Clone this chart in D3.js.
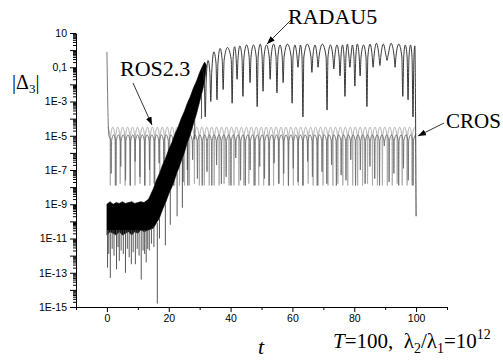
<!DOCTYPE html>
<html>
<head>
<meta charset="utf-8">
<script src="https://cdn.jsdelivr.net/npm/d3@7"></script>
<style>
  body { margin: 0; background: #fff; }
  svg { display: block; }
</style>
</head>
<body>
<svg id="chart" width="503" height="362"></svg>
<script>
// ---- data (values are log10 exponents) ----
const xTicks = [0, 20, 40, 60, 80, 100];
const xMinorTicks = [-10, 10, 30, 50, 70, 90, 110];
const yLabelExps = [1, -1, -3, -5, -7, -9, -11, -13, -15];
const yLabels = ['10', '0,1', '1E-3', '1E-5', '1E-7', '1E-9', '1E-11', '1E-13', '1E-15'];

// RADAU5, noisy start: envelope of the dense black band
const noiseT     = [0, 1, 2, 3, 4, 5, 6, 7, 8, 9, 10, 11, 12, 13.5, 15, 16, 17, 18, 19, 20, 21, 22, 23, 24, 25, 26, 27, 28, 29, 30, 31, 31.6, 32.2];
const noiseUpper = [-9.0, -8.85, -9.0, -8.9, -8.95, -8.85, -8.95, -8.9, -8.85, -8.95, -8.9, -8.85, -8.9, -8.7, -8.1, -7.6, -7.2, -6.7, -6.3, -5.8, -5.4, -4.9, -4.5, -4.0, -3.6, -3.1, -2.7, -2.2, -1.8, -1.3, -0.9, -0.7, -0.9];
const noiseLower = [-10.8, -10.6, -10.7, -10.8, -10.6, -10.8, -10.7, -10.6, -10.8, -10.6, -10.7, -10.5, -10.6, -10.5, -10.4, -10.1, -9.8, -9.3, -8.9, -8.4, -8.0, -7.5, -7.0, -6.5, -6.0, -5.4, -4.9, -4.3, -3.7, -3.0, -2.3, -1.8, -0.9];
// deep needles below the band: [t, top, bottom]
const noiseNeedles = [
  [0.2, -10.5, -12.7], [0.6, -10.5, -11.9], [1.1, -10.5, -13.3], [1.7, -10.5, -11.6], [2.3, -10.5, -12.0],
  [3.1, -10.5, -12.8], [3.6, -10.5, -11.5], [4.0, -10.5, -12.3], [4.6, -10.5, -11.7], [5.3, -10.5, -11.9],
  [6.0, -10.5, -13.0], [6.6, -10.5, -11.6], [7.2, -10.5, -12.1], [7.9, -10.5, -12.5], [8.5, -10.5, -11.8],
  [9.2, -10.5, -12.5], [9.8, -10.5, -11.6], [10.4, -10.5, -12.0], [11.1, -10.5, -13.4], [11.7, -10.5, -11.7],
  [12.2, -10.5, -11.9], [12.7, -10.5, -12.4], [13.2, -10.5, -11.6], [13.7, -10.5, -11.7], [14.4, -10.4, -11.3],
  [15.2, -10.3, -11.5], [16.3, -10.1, -14.8], [17.0, -9.8, -11.0], [18.9, -9.0, -11.4], [20.5, -8.2, -10.2],
  [22.7, -7.2, -9.7], [24.4, -6.3, -9.2], [26.0, -5.4, -7.0], [28.4, -4.1, -5.2], [30.6, -2.6, -4.0]
];
// RADAU5, oscillating part
const radPeakT   = [30.9, 32.7, 34.6, 36.6, 39.0, 41.3, 43.0, 45.2, 47.4, 49.6, 51.6, 53.9, 56.0, 58.4, 60.8, 62.6, 64.8, 67.3,
                    69.7, 72.3, 74.4, 76.2, 77.8, 79.4, 81.0, 83.0, 85.1, 87.2, 89.4, 91.9, 94.4, 96.5, 98.2, 99.6];
const radPeakExp = [-1.1, -0.6, -0.1, 0.1, 0.15, 0.2, 0.25, 0.3, 0.3, 0.35, 0.3, 0.35, 0.3, 0.35, 0.3, 0.3, 0.35, 0.3,
                    0.35, 0.3, 0.3, 0.3, 0.35, 0.3, 0.35, 0.3, 0.35, 0.4, 0.35, 0.4, 0.35, 0.3, 0.3, 0.25];
const radDipT    = [31.8, 33.6, 35.6, 37.6, 40.5, 42.1, 44.0, 46.3, 48.6, 50.5, 52.8, 55.0, 57.0, 59.9, 61.8, 63.4, 66.3, 68.3,
                    71.2, 73.4, 75.4, 77.0, 78.6, 80.2, 81.9, 84.1, 86.1, 88.3, 90.6, 93.2, 95.7, 97.4, 99.0];
const radDipExp  = [-3.9, -3.0, -2.9, -2.3, -3.1, -1.7, -2.7, -1.9, -3.3, -2.4, -1.7, -2.5, -1.9, -3.1, -1.0, -3.9, -1.3, -1.0,
                    -3.5, -1.1, -1.5, -2.7, -1.0, -2.1, -1.5, -3.3, -1.0, -0.9, -0.6, -1.0, -2.7, -2.9, -3.9];
const radEnd = [100.0, -9.7];

// ROS2.3 (light grey) — arches with needles, one needle per cycle
const rosStart = 0.3, rosPeriod = 1.6, rosPeak = -4.5, rosShoulder = -5.0;
const rosDips = [
  -7.9, -7.9, -7.8, -7.9, -7.9, -7.9, -7.8, -7.9, -7.9, -7.9,
  -7.9, -7.8, -7.9, -7.9, -7.9, -7.9, -7.9, -7.8, -7.9, -7.9,
  -7.9, -7.9, -7.9, -7.8, -7.9, -7.9, -7.9, -7.9, -7.8, -7.9,
  -7.9, -7.9, -7.9, -7.9, -7.8, -7.9, -7.9, -7.9, -7.9, -7.9,
  -7.8, -7.9, -7.9, -7.9, -7.9, -7.9, -7.8, -7.9, -7.9, -7.9,
  -7.9, -7.9, -7.8, -7.9, -7.9, -7.9, -7.9, -7.9, -7.8, -7.9,
  -7.9, -7.9];
// CROS (mid grey)
const crosSpike = [0, -0.1];
const crosStart = 0.6, crosPeriod = 1.55, crosPeak = -4.95, crosShoulder = -5.3;
const crosDips = [
  -7.2, -7.9, -6.8, -7.6, -7.9, -6.5, -7.4, -7.9, -7.0, -7.8,
  -6.6, -7.9, -7.3, -7.9, -6.9, -7.7, -7.9, -6.4, -7.5, -7.9,
  -7.1, -7.9, -6.7, -7.8, -7.4, -7.9, -6.3, -7.6, -7.9, -7.0,
  -7.9, -6.8, -7.5, -7.9, -6.6, -7.8, -7.2, -7.9, -6.9, -7.7,
  -7.9, -6.5, -7.4, -7.9, -7.1, -7.8, -6.7, -7.9, -7.3, -7.6,
  -6.4, -7.9, -7.0, -7.8, -6.8, -7.5, -7.9, -5.6, -7.7, -7.2,
  -7.9, -6.9, -7.6, -7.9];

// ---- chart ----
const svg = d3.select('#chart');
const x = d3.scaleLinear().domain([-10, 110]).range([76, 447]);
const y = d3.scaleLog().domain([1e-15, 10]).range([307, 33]);
const ey = e => y(Math.pow(10, e));

const sansFont = '"Liberation Sans", Arial, sans-serif';
const serifFont = '"Liberation Serif", "Times New Roman", serif';

// periodic series -> points (peak, shoulder, needle, shoulder)
function cyclePoints(start, period, peak, shoulder, dips) {
  const pts = [];
  dips.forEach((d, i) => {
    const t = start + i * period;
    pts.push([t, peak]);
    pts.push([t + period / 2 - 0.12, shoulder]);
    pts.push([t + period / 2, d]);
    pts.push([t + period / 2 + 0.12, shoulder]);
  });
  pts.push([start + dips.length * period, peak]);
  return pts.filter(p => p[0] <= 100);
}

const line = d3.line()
  .x(d => x(d[0]))
  .y(d => ey(d[1]))
  .curve(d3.curveMonotoneX);

const plot = svg.append('g');

// ROS2.3
plot.append('path')
  .datum(cyclePoints(rosStart, rosPeriod, rosPeak, rosShoulder, rosDips))
  .attr('fill', 'none').attr('stroke', '#a8a8a8').attr('stroke-width', 0.9)
  .attr('d', line);

// CROS
plot.append('path')
  .datum([crosSpike].concat(cyclePoints(crosStart, crosPeriod, crosPeak, crosShoulder, crosDips)))
  .attr('fill', 'none').attr('stroke', '#6a6a6a').attr('stroke-width', 0.9)
  .attr('d', line);

// RADAU5 noisy band
const area = d3.area()
  .x((d, i) => x(noiseT[i]))
  .y0((d, i) => ey(noiseLower[i]))
  .y1((d, i) => ey(noiseUpper[i]));
plot.append('path')
  .datum(noiseT)
  .attr('fill', '#000')
  .attr('stroke', '#000').attr('stroke-width', 0.6)
  .attr('d', area);

plot.append('g')
  .selectAll('line')
  .data(noiseNeedles)
  .join('line')
  .attr('x1', d => x(d[0])).attr('x2', d => x(d[0]))
  .attr('y1', d => ey(d[1])).attr('y2', d => ey(d[2]))
  .attr('stroke', '#444').attr('stroke-width', 0.9);

// RADAU5 arches
const radPts = [];
radPeakT.forEach((t, i) => {
  radPts.push([t, radPeakExp[i]]);
  if (i < radDipT.length) {
    const sh = Math.min(radPeakExp[i], radPeakExp[i + 1]) - 0.7;
    radPts.push([radDipT[i] - 0.3, sh]);
    radPts.push([radDipT[i], radDipExp[i]]);
    radPts.push([radDipT[i] + 0.3, sh]);
  }
});
radPts.push(radEnd);
plot.append('path')
  .datum(radPts)
  .attr('fill', 'none').attr('stroke', '#222').attr('stroke-width', 0.9)
  .attr('d', line);

// ---- axes ----
const minorY = [];
for (let e = -15; e <= 0; e++) for (let m = 2; m <= 9; m++) minorY.push(m * Math.pow(10, e));
const decades = d3.range(-15, 2).map(e => Math.pow(10, e));

svg.append('g')
  .attr('transform', `translate(${x.range()[0]},0)`)
  .call(d3.axisLeft(y).tickValues(minorY).tickSize(3).tickSizeOuter(0).tickFormat(''))
  .call(g => g.select('.domain').remove());

const yAxis = svg.append('g')
  .attr('transform', `translate(${x.range()[0]},0)`)
  .call(d3.axisLeft(y).tickValues(decades).tickSize(6).tickSizeOuter(0).tickPadding(3)
    .tickFormat(v => {
      const i = yLabelExps.indexOf(Math.round(Math.log10(v)));
      return i >= 0 ? yLabels[i] : '';
    }));
yAxis.selectAll('text').attr('font-family', sansFont).attr('font-size', 10.5).attr('fill', '#000');

const xAxis = svg.append('g')
  .attr('transform', `translate(0,${y.range()[0]})`)
  .call(d3.axisBottom(x).tickValues(xTicks).tickSize(5).tickSizeOuter(0).tickPadding(3));
xAxis.selectAll('text').attr('font-family', sansFont).attr('font-size', 10.5).attr('fill', '#000');

svg.append('g')
  .attr('transform', `translate(0,${y.range()[0]})`)
  .call(d3.axisBottom(x).tickValues(xMinorTicks).tickSize(3).tickSizeOuter(0).tickFormat(''))
  .call(g => g.select('.domain').remove());

// ---- labels ----
const yTitle = svg.append('text')
  .attr('x', 12).attr('y', 89)
  .attr('font-family', serifFont).attr('font-size', 20);
yTitle.append('tspan').text('|Δ');
yTitle.append('tspan').attr('font-size', 13).attr('dy', 4).text('3');
yTitle.append('tspan').attr('dy', -4).text('|');

const defs = svg.append('defs');
defs.append('marker')
  .attr('id', 'arrow')
  .attr('viewBox', '0 0 8 6')
  .attr('refX', 8).attr('refY', 3)
  .attr('markerWidth', 8).attr('markerHeight', 6)
  .attr('markerUnits', 'userSpaceOnUse')
  .attr('orient', 'auto')
  .append('path').attr('d', 'M0,0 L8,3 L0,6 Z').attr('fill', '#000');

const callouts = [
  {text: 'ROS2.3', tx: 120, ty: 76, size: 22, from: [133, 83], to: [152, 125]},
  {text: 'RADAU5', tx: 288, ty: 24, size: 22, from: [292, 19], to: [267, 44]},
  {text: 'CROS', tx: 446, ty: 128, size: 21, from: [444, 123], to: [418, 136]}
];
callouts.forEach(c => {
  svg.append('text')
    .attr('x', c.tx).attr('y', c.ty)
    .attr('font-family', serifFont).attr('font-size', c.size)
    .text(c.text);
  svg.append('line')
    .attr('x1', c.from[0]).attr('y1', c.from[1])
    .attr('x2', c.to[0]).attr('y2', c.to[1])
    .attr('stroke', '#000').attr('stroke-width', 0.8)
    .attr('marker-end', 'url(#arrow)');
});

svg.append('text')
  .attr('x', 258).attr('y', 354)
  .attr('font-family', serifFont).attr('font-size', 22).attr('font-style', 'italic')
  .text('t');

const note = svg.append('text')
  .attr('x', 333).attr('y', 348)
  .attr('font-family', serifFont).attr('font-size', 21);
note.append('tspan').attr('font-style', 'italic').text('T');
note.append('tspan').text('=100,\u00a0\u00a0λ');
note.append('tspan').attr('font-size', 14).attr('dy', 5).text('2');
note.append('tspan').attr('dy', -5).text('/λ');
note.append('tspan').attr('font-size', 14).attr('dy', 5).text('1');
note.append('tspan').attr('dy', -5).text('=10');
note.append('tspan').attr('font-size', 14).attr('dy', -9).text('12');
</script>
</body>
</html>
